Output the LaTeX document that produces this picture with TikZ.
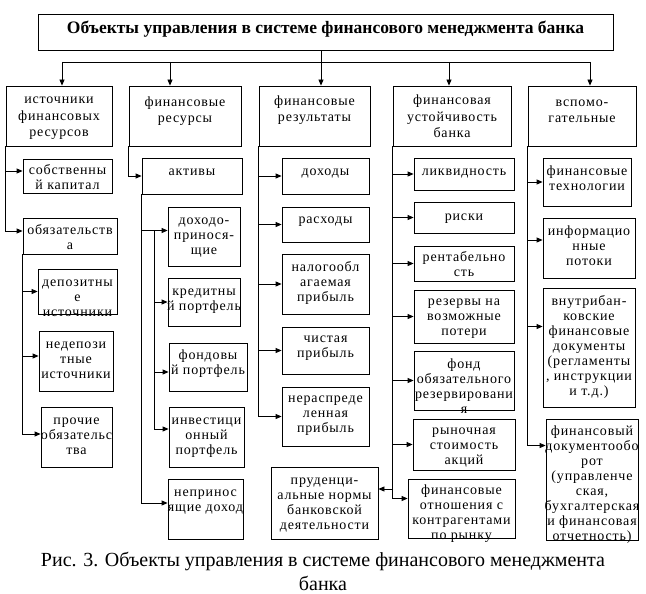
\documentclass[tikz,border=0pt]{standalone}
\usepackage{fontspec}
\setmainfont{Liberation Serif}
\newfontfamily\cellfont{Liberation Serif}[LetterSpace=6]
\usetikzlibrary{arrows.meta}
\tikzset{>/.tip={Triangle[length=6pt,width=5pt]},
  box/.style={draw, inner sep=0pt, font=\cellfont\fontsize{14}{15}\selectfont},
  head/.style={box, minimum height=60pt, font=\cellfont\fontsize{14}{16.5}\selectfont}}
\newcommand{\celltext}[2][0pt]{\makebox[0pt]{\smash{\raisebox{\dimexpr-3.5pt-#1\relax}{\begin{tabular}{@{}c@{}}#2\end{tabular}}}}}

\begin{document}
\begin{tikzpicture}[x=1pt, y=-1pt, line width=0.8pt]
\useasboundingbox (0,0) rectangle (646,594);

\node[box, minimum width=575pt, minimum height=36pt, font=\fontsize{17.5}{20}\selectfont\bfseries] (0) at (325.5,32) {\celltext[-2pt]{Объекты управления в системе финансового менеджмента банка}};

\node[head, minimum width=106pt] (1) at (59,116) {\celltext[1pt]{источники\\финансовых\\ресурсов}};
\node[head, minimum width=112pt] (2) at (185,116) {\celltext[-4.5pt]{финансовые\\ресурсы}};
\node[head, minimum width=111pt] (3) at (314.5,116) {\celltext[-5.5pt]{финансовые\\результаты}};
\node[head, minimum width=118pt] (4) at (452,116) {\celltext[2pt]{финансовая\\устойчивость\\банка}};
\node[head, minimum width=108pt] (5) at (582,116) {\celltext[-4.5pt]{вспомо-\\гательные}};

\node[box, minimum width=89pt, minimum height=34pt] (1a) at (67.5,176) {\celltext[3pt]{собственны\\й капитал}};
\node[box, minimum width=94pt, minimum height=36pt] (1b) at (70,236) {\celltext[3.5pt]{обязательств\\а}};
\node[box, minimum width=79pt, minimum height=45pt] (1c) at (77.5,291.5) {\celltext[7.5pt]{депозитны\\е\\источники}};
\node[box, minimum width=74pt, minimum height=60pt] (1d) at (76,361) {\celltext{недепози\\тные\\источники}};
\node[box, minimum width=71pt, minimum height=60pt] (1e) at (76.5,437) {\celltext{прочие\\обязательс\\тва}};

\node[box, minimum width=100pt, minimum height=36pt] (2a) at (192,176) {\celltext[-3pt]{активы}};
\node[box, minimum width=72pt, minimum height=59pt] (2b) at (204,236.5) {\celltext{доходо-\\принося-\\щие}};
\node[box, minimum width=72pt, minimum height=48pt] (2c) at (204,302) {\celltext[-2pt]{кредитны\\й портфель}};
\node[box, minimum width=78pt, minimum height=48pt] (2d) at (208,367) {\celltext[-3pt]{фондовы\\й портфель}};
\node[box, minimum width=75pt, minimum height=60pt] (2e) at (206.5,437) {\celltext{инвестици\\онный\\портфель}};
\node[box, minimum width=75pt, minimum height=60pt] (2f) at (205.5,509) {\celltext[-8pt]{непринос\\ящие доход}};

\node[box, minimum width=87pt, minimum height=36pt] (3a) at (325.5,176) {\celltext[-3pt]{доходы}};
\node[box, minimum width=87pt, minimum height=35pt] (3b) at (325.5,224.5) {\celltext[-3.5pt]{расходы}};
\node[box, minimum width=87pt, minimum height=60pt] (3c) at (325.5,284) {\celltext{налогообл\\агаемая\\прибыль}};
\node[box, minimum width=87pt, minimum height=47pt] (3d) at (325.5,350.5) {\celltext[-3pt]{чистая\\прибыль}};
\node[box, minimum width=87pt, minimum height=59pt] (3e) at (325.5,416.5) {\celltext[-1.5pt]{нераспреде\\ленная\\прибыль}};
\node[box, minimum width=107pt, minimum height=72pt] (prud) at (324.5,503) {\celltext[1.5pt]{пруденци-\\альные нормы\\банковской\\деятельности}};

\node[box, minimum width=100pt, minimum height=32pt] (4a) at (464,174) {\celltext[-1pt]{ликвидность}};
\node[box, minimum width=100pt, minimum height=31pt] (4b) at (464,217.5) {\celltext{риски}};
\node[box, minimum width=100pt, minimum height=35pt] (4c) at (464,263.5) {\celltext[3pt]{рентабельно\\сть}};
\node[box, minimum width=100pt, minimum height=53pt] (4d) at (464,316.5) {\celltext[1.5pt]{резервы на\\возможные\\потери}};
\node[box, minimum width=100pt, minimum height=59pt] (4e) at (464,380.5) {\celltext[8pt]{фонд\\обязательного\\резервировани\\я}};
\node[box, minimum width=102pt, minimum height=51pt] (4f) at (464,444.5) {\celltext[2.5pt]{рыночная\\стоимость\\акций}};
\node[box, minimum width=107pt, minimum height=59pt] (4g) at (461.5,508.5) {\celltext[5.5pt]{финансовые\\отношения с\\контрагентами\\по рынку}};

\node[box, minimum width=88pt, minimum height=48pt] (5a) at (587,182) {\celltext[-2pt]{финансовые\\технологии}};
\node[box, minimum width=92pt, minimum height=60pt] (5b) at (589,248) {\celltext{информацио\\нные\\потоки}};
\node[box, minimum width=92pt, minimum height=119pt] (5c) at (589,347.5) {\celltext{внутрибан-\\ковские\\финансовые\\документы\\(регламенты\\, инструкции\\и т.д.)}};
\node[box, minimum width=92pt, minimum height=121pt] (5d) at (592,479.5) {\celltext[6pt]{финансовый\\документообо\\рот\\(управленче\\ская,\\бухгалтерская\\и финансовая\\отчетность)}};

\node[inner sep=0pt, font=\fontsize{20}{24}\selectfont] (cap) at (323,574) {\celltext[1.5pt]{Рис. 3. Объекты управления в системе финансового менеджмента\\банка}};

\coordinate (b1) at (62,62);
\coordinate (b2) at (170,62);
\coordinate (b3) at (321,62);
\coordinate (b4) at (449,62);
\coordinate (b5) at (590,62);
\draw (b3 |- 0.south) -- (b3);
\draw (b1) -- (b5);
\foreach \n in {1,...,5}
  \draw[->] (b\n) -- (b\n |- \n.north);

\draw[->] (1.south west) |- ([yshift=5pt]1a.west);
\draw[->] (1.south west) |- ([yshift=5pt]1b.west);
\draw[->] (1b.south west) |- (1c.west);
\draw[->] (1b.south west) |- ([yshift=5pt]1d.west);
\draw[->] (1b.south west) |- ([yshift=3pt]1e.west);

\coordinate (2j) at (154,230);
\draw[->] (2.south west) |- (2a.west);
\draw[->] (2a.south west) |- ([yshift=6pt]2b.west);
\draw[->] (2j) |- (2c.west);
\draw[->] (2j) |- ([yshift=-5pt]2d.west);
\draw[->] (2j) |- ([yshift=8pt]2e.west);
\draw[->] (2a.south west) |- ([yshift=6pt]2f.west);

\foreach \n in {3a,3b,3c,3d,3e}
  \draw[->] (3.south west) |- (\n.west);

\coordinate (4j) at (393,489);
\foreach \n in {4a,4b,4c,4d,4e,4f}
  \draw[->] (4.south west) |- (\n.west);
\draw[->] (4.south west) |- ([yshift=10pt]4g.west);
\draw[->] (4j) -- (4j -| prud.east);

\draw[->] (5.south west) |- (5a.west);
\draw[->] (5.south west) |- ([yshift=8pt]5b.west);
\draw[->] (5.south west) |- ([yshift=21pt]5c.west);
\draw[->] (5.south west) |- ([yshift=34pt]5d.west);
\end{tikzpicture}
\end{document}
